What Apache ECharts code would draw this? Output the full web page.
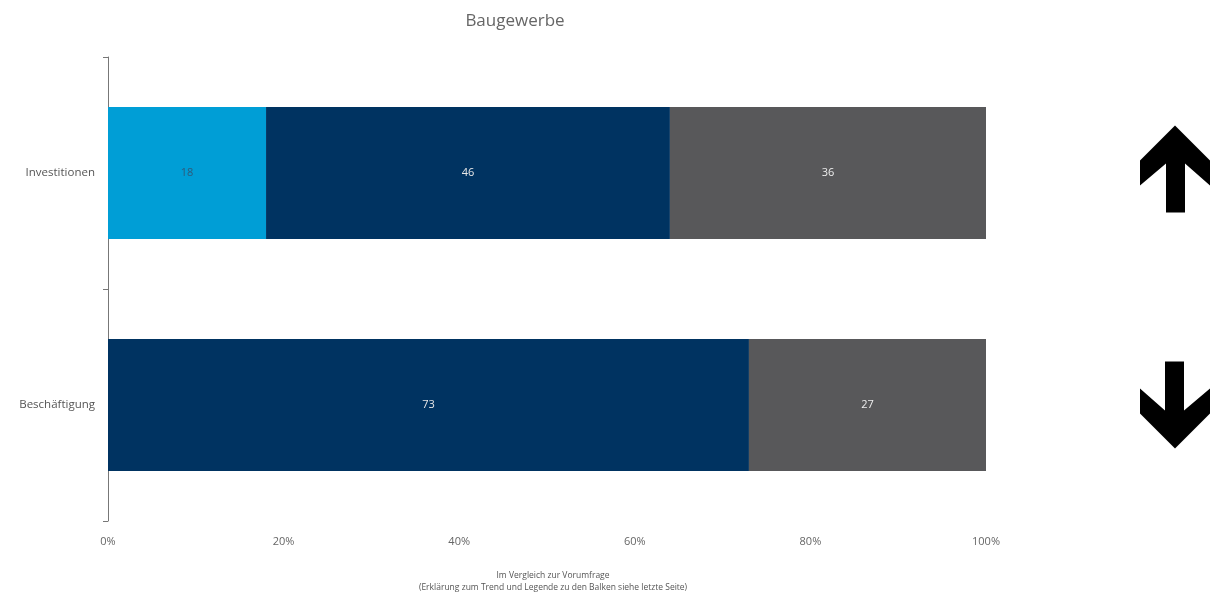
<!DOCTYPE html>
<html>
<head>
<meta charset="utf-8">
<script src="https://cdn.jsdelivr.net/npm/echarts@6/dist/echarts.min.js"></script>
<style>html,body{margin:0;padding:0;background:#fff;}#c{width:1225px;height:597px;}</style>
</head>
<body>
<div id="c"></div>
<script>
var categories = ['Investitionen', 'Beschäftigung'];
var seriesNames = ['gestiegen', 'gleich', 'gesunken'];
var valuesA = [18, null];
var valuesB = [46, 73];
var valuesC = [36, 27];
var trends = ['up', 'down'];
var xTicks = [0, 20, 40, 60, 80, 100];

var chart = echarts.init(document.getElementById('c'));
var arrowPath = 'path://M35,0 L70,35 L70,60 L45,38 L45,87 L26,87 L26,38 L0,60 L0,35 Z';

var labelBase = {show: true, position: 'inside', fontFamily: 'Open Sans', fontSize: 11};

chart.setOption({
  animation: false,
  title: [
    {text: 'Baugewerbe', left: 510, top: 8, textAlign: 'center',
     textStyle: {fontFamily: 'Open Sans', fontWeight: 'normal', fontSize: 17, color: '#666'}},
    {text: 'Im Vergleich zur Vorumfrage\n(Erklärung zum Trend und Legende zu den Balken siehe letzte Seite)',
     left: 548, top: 565, textAlign: 'center',
     textStyle: {fontFamily: 'Open Sans', fontWeight: 'normal', fontSize: 8.5, color: '#555', lineHeight: 12}}
  ],
  grid: [
    {left: 108, right: 239, top: 57, bottom: 76},
    {left: 1130, width: 90, top: 57, bottom: 76}
  ],
  xAxis: [
    {type: 'value', gridIndex: 0, min: 0, max: 100, interval: 20,
     axisLine: {show: false}, axisTick: {show: false}, splitLine: {show: false},
     axisLabel: {formatter: '{value}%', fontFamily: 'Open Sans', fontSize: 11, color: '#666', margin: 15}},
    {type: 'value', gridIndex: 1, min: 0, max: 1, show: false}
  ],
  yAxis: [
    {type: 'category', gridIndex: 0, data: categories, inverse: true,
     axisLine: {show: true, lineStyle: {color: '#777', width: 1}},
     axisTick: {show: true, length: 5, lineStyle: {color: '#777'}},
     axisLabel: {fontFamily: 'Open Sans', fontSize: 11.5, color: '#555', margin: 13}},
    {type: 'category', gridIndex: 1, data: categories, inverse: true, show: false}
  ],
  series: [
    {name: seriesNames[0], type: 'bar', stack: 't', data: valuesA, barWidth: '57%',
     itemStyle: {color: '#009ed6'},
     label: Object.assign({}, labelBase, {color: '#2e5a7a'})},
    {name: seriesNames[1], type: 'bar', stack: 't', data: valuesB,
     itemStyle: {color: '#003361'},
     label: Object.assign({}, labelBase, {color: '#e8e8e8'})},
    {name: seriesNames[2], type: 'bar', stack: 't', data: valuesC,
     itemStyle: {color: '#58585a'},
     label: Object.assign({}, labelBase, {color: '#eeeeee'})},
    {type: 'scatter', xAxisIndex: 1, yAxisIndex: 1,
     symbol: arrowPath, symbolSize: [70, 87],
     itemStyle: {color: '#000', opacity: 1},
     emphasis: {disabled: true},
     data: trends.map(function (t, i) {
       return {value: [0.5, categories[i]], symbolRotate: t === 'up' ? 0 : 180,
               symbolOffset: t === 'up' ? [0, -4] : [0, 0]};
     })}
  ]
});
</script>
</body>
</html>
